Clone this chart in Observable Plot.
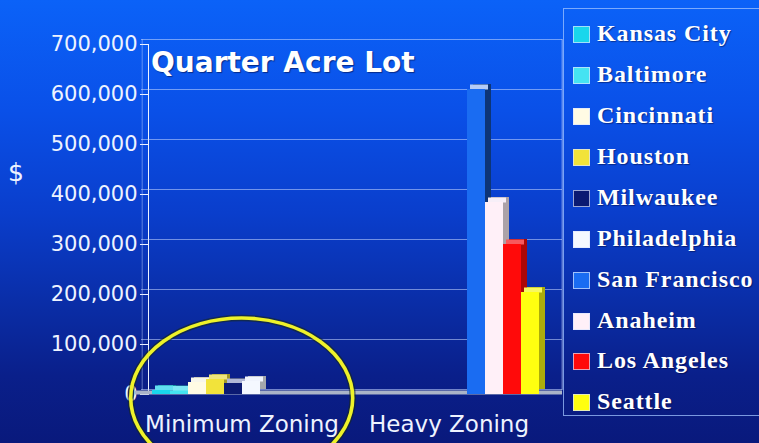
<!DOCTYPE html>
<html>
<head>
<meta charset="utf-8">
<script src="https://cdn.jsdelivr.net/npm/d3@7"></script>
<script src="https://cdn.jsdelivr.net/npm/@observablehq/plot@0.6"></script>
<style>
  html, body { margin: 0; padding: 0; }
  #wrap {
    position: relative; width: 759px; height: 443px; overflow: hidden;
    background: linear-gradient(to bottom, #0b62f8 0%, #0a50e8 25%, #0a3ecc 48%, #0a2ca4 70%, #0a1f8a 85%, #09197c 100%);
    font-family: "DejaVu Sans", sans-serif;
  }
  #chart svg { position: absolute; left: 0; top: 0; }
  #chart svg g[aria-label^="fx-axis"] text { font-size: 23px; }
  #title {
    position: absolute; left: 151px; top: 49px; color: #fff;
    font: bold 28px/28px "DejaVu Sans", sans-serif; white-space: nowrap;
    text-shadow: 1px 1px 1px rgba(0,0,40,0.5);
  }
  #ylab {
    position: absolute; left: 8px; top: 160px; color: #eef3ff;
    font: 25px/25px "DejaVu Sans", sans-serif;
  }
  #legend {
    position: absolute; left: 563px; top: 8px; width: 200px; height: 408px;
    border: 1px solid rgba(160,195,255,0.75); box-sizing: border-box;
  }
  .row { position: absolute; left: 0; height: 41px; line-height: 41px; width: 200px;
    font: bold 24px/41px "Liberation Serif", serif; letter-spacing: 0.9px; color: #fff; white-space: nowrap;
    text-shadow: 1px 1px 1px rgba(0,0,40,0.45); }
  .sw { position: absolute; left: 9px; top: 13px; width: 15px; height: 15px; border: 1px solid rgba(220,230,255,0.7); }
  .lt { position: absolute; left: 33px; top: 0; }
</style>
</head>
<body>
<div id="wrap">
  <div id="chart"></div>
  <div id="title">Quarter Acre Lot</div>
  <div id="ylab">$</div>
  <div id="legend"></div>
</div>
<script>
const cities = ["Kansas City", "Baltimore", "Cincinnati", "Houston", "Milwaukee",
                "Philadelphia", "San Francisco", "Anaheim", "Los Angeles", "Seattle"];
const cityColors = ["#19d6ec", "#45e3f2", "#fffbe4", "#f2e33a", "#0b1a72",
                    "#f4f8ff", "#1a6cf2", "#fff0f8", "#ff0a0a", "#ffff10"];
const zones = ["Minimum Zoning", "Heavy Zoning"];
const minimumZoning = [8000, 7000, 24000, 30000, 22000, 26000, 0, 0, 0, 0];
const heavyZoning = [0, 0, 0, 0, 0, 0, 610000, 384000, 300000, 204000];
const yTicks = [0, 100000, 200000, 300000, 400000, 500000, 600000, 700000];

const colorOf = c => cityColors[cities.indexOf(c)];
const sideOf = c => d3.color(colorOf(c)).darker(c === "San Francisco" ? 2 : 1.1).formatHex();
const topOf = c => d3.interpolateRgb(colorOf(c), "#e8ecf8")(c === "Milwaukee" || c === "San Francisco" ? 0.75 : 0.35);

const rows = zones.flatMap((z, zi) =>
  cities.map((c, i) => ({zone: z, city: c, value: (zi === 0 ? minimumZoning : heavyZoning)[i]}))
).filter(d => d.value > 0);

const gridLeft = yTicks.map(v => ({zone: zones[0], value: v}));
const gridRight = yTicks.map(v => ({zone: zones[1], value: v}));

const plot = Plot.plot({
  width: 759, height: 443,
  marginLeft: 135, marginRight: 197, marginTop: 44, marginBottom: 49,
  style: {background: "transparent", color: "#eef3ff", fontFamily: "DejaVu Sans, sans-serif", fontSize: "21px", overflow: "visible"},
  fx: {domain: zones, paddingInner: 0.0966, paddingOuter: 0.0797, align: 0.4, axis: "bottom", tickSize: 0, tickPadding: 21, label: null},
  x: {domain: cities, padding: 0, axis: null},
  y: {domain: [0, 700000], ticks: yTicks, tickFormat: d3.format(","), tickSize: 8, tickPadding: 3, label: null, line: true},
  marks: [
    Plot.ruleY(gridLeft, {fx: "zone", y: "value", dy: -5, insetLeft: -7, insetRight: -10, stroke: "#c8d8ff", strokeOpacity: 0.55, strokeWidth: 1.2}),
    Plot.ruleY(gridRight, {fx: "zone", y: "value", dy: -5, insetLeft: -10, insetRight: -20, stroke: "#c8d8ff", strokeOpacity: 0.55, strokeWidth: 1.2}),
    Plot.ruleY(gridLeft.slice(0, 1), {fx: "zone", y: "value", dy: -2, insetLeft: -13, insetRight: -10, stroke: "#aab4c8", strokeWidth: 4}),
    Plot.ruleY(gridRight.slice(0, 1), {fx: "zone", y: "value", dy: -2, insetLeft: -10, insetRight: -20, stroke: "#aab4c8", strokeWidth: 4}),
    Plot.barY(rows, {fx: "zone", x: "city", y: "value", fill: d => sideOf(d.city), dx: 6, dy: -5}),
    Plot.tickY(rows, {fx: "zone", x: "city", y: "value", stroke: d => topOf(d.city), strokeWidth: 5, dx: 3, dy: -2.5}),
    Plot.barY(rows, {fx: "zone", x: "city", y: "value", fill: d => colorOf(d.city)})
  ]
});
document.getElementById("chart").appendChild(plot);

// annotation ellipse and back-wall edges, positioned from the plot's scales
const fxs = plot.scale("fx"), ys = plot.scale("y");
const fxScale = d3.scaleBand(fxs.domain, fxs.range).paddingInner(fxs.paddingInner).paddingOuter(fxs.paddingOuter).align(fxs.align);
const yScale = d3.scaleLinear(ys.domain, ys.range);
const svg = d3.select(plot);
const x0 = fxScale(zones[0]) - 13, x1 = fxScale(zones[1]) + fxScale.bandwidth() + 20;
svg.append("line").attr("x1", x1).attr("x2", x1).attr("y1", yScale(700000) - 5).attr("y2", yScale(0) - 4)
  .attr("stroke", "#c8d8ff").attr("stroke-opacity", 0.55).attr("stroke-width", 1.2);
svg.append("line").attr("x1", x0 + 7).attr("x2", x0 + 7).attr("y1", yScale(700000) - 5).attr("y2", yScale(0) - 4)
  .attr("stroke", "#c8d8ff").attr("stroke-opacity", 0.45).attr("stroke-width", 1);
const cx = fxScale(zones[0]) + fxScale.bandwidth() / 2, cy = yScale(0) + 4;
svg.append("ellipse").attr("cx", cx).attr("cy", cy).attr("rx", 111).attr("ry", 80)
  .attr("fill", "none").attr("stroke", "#1a2a10").attr("stroke-opacity", 0.55).attr("stroke-width", 6.5);
svg.append("ellipse").attr("cx", cx).attr("cy", cy).attr("rx", 111).attr("ry", 80)
  .attr("fill", "none").attr("stroke", "#eef22a").attr("stroke-width", 3.6);

// legend
const legend = document.getElementById("legend");
cities.forEach((c, i) => {
  const r = document.createElement("div");
  r.className = "row";
  r.style.top = (4.2 + i * 40.9) + "px";
  r.innerHTML = `<span class="sw" style="background:${cityColors[i]}"></span><span class="lt">${c}</span>`;
  legend.appendChild(r);
});
</script>
</body>
</html>
